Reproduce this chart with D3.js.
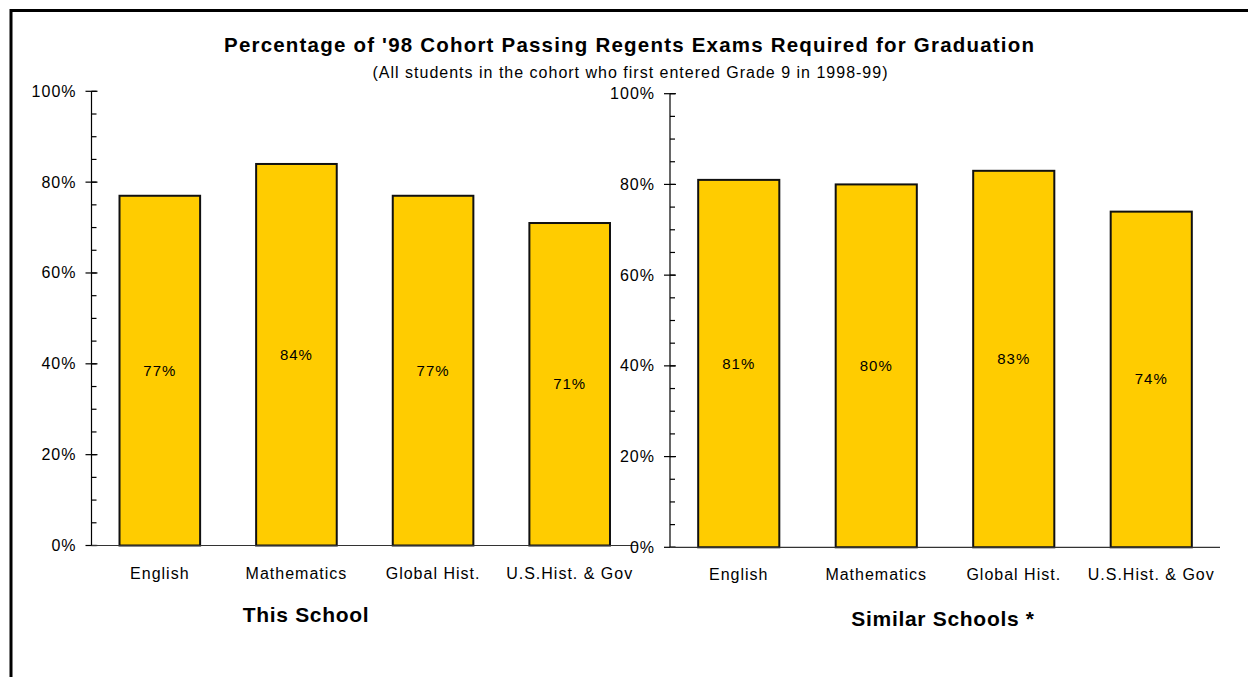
<!DOCTYPE html>
<html>
<head>
<meta charset="utf-8">
<script src="https://cdn.jsdelivr.net/npm/d3@7"></script>
<style>
  html, body { margin: 0; padding: 0; background: #fff; }
  svg { display: block; font-family: "Liberation Sans", Arial, sans-serif; }
</style>
</head>
<body>
<svg id="chart" width="1248" height="677"></svg>
<script>
// Regents exam pass rates for the 1998 cohort
const subjects = ["English", "Mathematics", "Global Hist.", "U.S.Hist. & Gov"];
const thisSchool = [77, 84, 77, 71];
const similarSchools = [81, 80, 83, 74];
const yTicks = [0, 20, 40, 60, 80, 100];
const minorTicks = d3.range(0, 101, 5);

const title = "Percentage of '98 Cohort Passing Regents Exams Required for Graduation";
const subtitle = "(All students in the cohort who first entered Grade 9 in 1998-99)";

const svg = d3.select("#chart");

// outer frame
svg.append("rect")
  .attr("x", 11).attr("y", 10.5)
  .attr("width", 1260).attr("height", 700)
  .attr("fill", "none").attr("stroke", "#000").attr("stroke-width", 3);

svg.append("text")
  .attr("x", 629).attr("y", 52)
  .attr("text-anchor", "middle")
  .attr("font-size", 20.5).attr("font-weight", "bold")
  .attr("textLength", 810).attr("lengthAdjust", "spacing")
  .text(title);

svg.append("text")
  .attr("x", 630).attr("y", 78)
  .attr("text-anchor", "middle")
  .attr("font-size", 16)
  .attr("textLength", 515).attr("lengthAdjust", "spacing")
  .text(subtitle);

function panel(cfg) {
  const g = svg.append("g");
  const y = d3.scaleLinear().domain([0, 100]).range([cfg.bottom, cfg.top]);
  const x = d3.scaleBand().domain(subjects)
    .range([cfg.left, cfg.right]).paddingInner(0.41).paddingOuter(0.205);

  // bars
  g.selectAll("rect.bar").data(cfg.values).join("rect")
    .attr("class", "bar")
    .attr("x", (d, i) => x(subjects[i]))
    .attr("y", d => y(d))
    .attr("width", x.bandwidth())
    .attr("height", d => y(0) - y(d))
    .attr("fill", "#FFCC00")
    .attr("stroke", "#111")
    .attr("stroke-width", 2);

  // value labels at mid-height of each bar
  g.selectAll("text.val").data(cfg.values).join("text")
    .attr("class", "val")
    .attr("x", (d, i) => x(subjects[i]) + x.bandwidth() / 2)
    .attr("y", d => y(d / 2) + 5)
    .attr("text-anchor", "middle")
    .attr("font-size", 15)
    .attr("letter-spacing", 1)
    .text(d => d + "%");

  // y axis: major ticks cross the line, minor ticks on the inside
  const yAxis = g.append("g").attr("transform", `translate(${cfg.left},0)`);
  yAxis.append("line")
    .attr("x1", 0).attr("x2", 0)
    .attr("y1", y(100)).attr("y2", y(0))
    .attr("stroke", "#000").attr("stroke-width", 1.2);
  yAxis.selectAll("line.minor").data(minorTicks).join("line")
    .attr("class", "minor")
    .attr("x1", 0).attr("x2", 5)
    .attr("y1", d => y(d)).attr("y2", d => y(d))
    .attr("stroke", "#000").attr("stroke-width", 1.2);
  yAxis.selectAll("line.major").data(yTicks).join("line")
    .attr("class", "major")
    .attr("x1", -6).attr("x2", 6)
    .attr("y1", d => y(d)).attr("y2", d => y(d))
    .attr("stroke", "#000").attr("stroke-width", 1.2);
  yAxis.selectAll("text").data(yTicks).join("text")
    .attr("x", -15).attr("y", d => y(d) + 5.5)
    .attr("text-anchor", "end")
    .attr("font-size", 16)
    .attr("letter-spacing", 1)
    .text(d => d + "%");

  // x axis baseline and category labels
  g.append("line")
    .attr("x1", cfg.left).attr("x2", cfg.right)
    .attr("y1", y(0)).attr("y2", y(0))
    .attr("stroke", "#333").attr("stroke-width", 1.2);
  g.selectAll("text.cat").data(subjects).join("text")
    .attr("class", "cat")
    .attr("x", d => x(d) + x.bandwidth() / 2)
    .attr("y", cfg.bottom + 33)
    .attr("text-anchor", "middle")
    .attr("font-size", 16)
    .attr("letter-spacing", 1)
    .text(d => d);

  g.append("text")
    .attr("x", cfg.labelX).attr("y", cfg.labelY)
    .attr("text-anchor", "middle")
    .attr("font-size", 21).attr("font-weight", "bold")
    .attr("letter-spacing", 0.7)
    .text(cfg.label);
}

panel({ values: thisSchool, left: 91.5, right: 638, top: 91.3, bottom: 545.5,
        label: "This School", labelX: 306, labelY: 622 });
panel({ values: similarSchools, left: 670, right: 1220, top: 93.7, bottom: 547.3,
        label: "Similar Schools *", labelX: 943, labelY: 626 });
</script>
</body>
</html>
